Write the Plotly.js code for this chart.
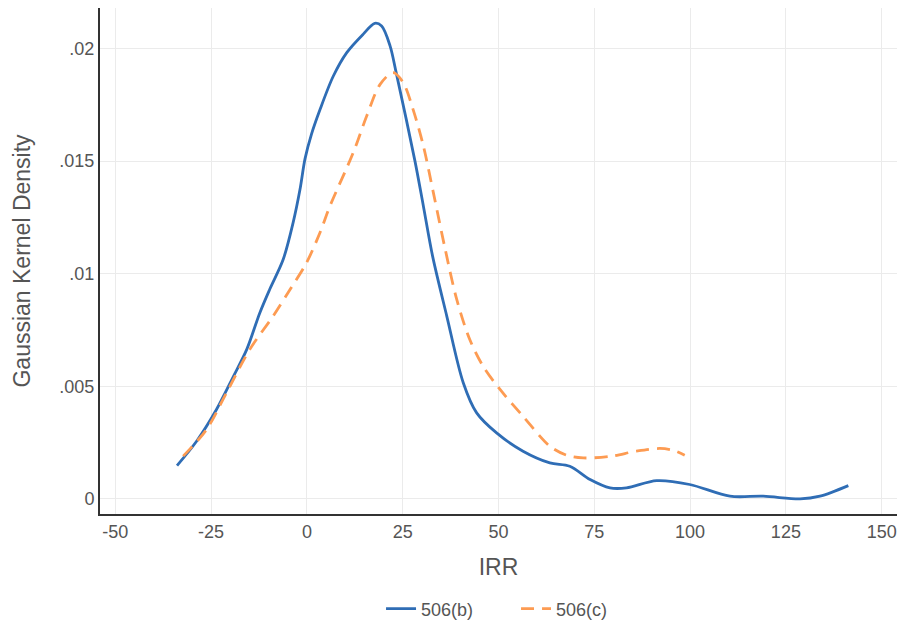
<!DOCTYPE html>
<html>
<head>
<meta charset="utf-8">
<script src="https://cdn.plot.ly/plotly-3.0.1.min.js"></script>
<style>html,body{margin:0;padding:0;background:#fff;}#chart{width:900px;height:627px;}</style>
</head>
<body>
<div id="chart"></div>
<script>
// 506(b) density curve
const bX = [-33.9, -28.8, -23.6, -19.3, -15.7, -12.3, -9.7, -6.2, -3.6, -1.8, -0.5, 1.2, 3.4, 6.9, 10.4, 14.7, 17.7, 19.5, 21.7, 23.3, 28.2, 30.4, 32.8, 36.5, 40.8, 44.3, 49.5, 56.4, 63.4, 68.6, 73.9, 79.1, 83.4, 91.3, 99.9, 110.4, 119.1, 128.7, 133.9, 141.3];
const bY = [0.00148, 0.00256, 0.00397, 0.0054, 0.00664, 0.00826, 0.00931, 0.01063, 0.01227, 0.01375, 0.0151, 0.0162, 0.01728, 0.01878, 0.01982, 0.02064, 0.02112, 0.021, 0.02012, 0.01893, 0.015, 0.013, 0.01078, 0.00812, 0.00516, 0.00382, 0.00293, 0.00212, 0.0016, 0.00145, 0.00086, 0.00049, 0.00049, 0.00081, 0.00064, 0.00012, 0.00012, 0.0, 0.00012, 0.00059];
// 506(c) density curve
const cX = [-32.3, -26.2, -21, -14.9, -8.8, -4.4, -0.1, 3.4, 6.0, 12.1, 15.6, 19.1, 22.5, 25.1, 27.7, 30.4, 33.0, 36.1, 39.1, 42.5, 46, 50.4, 56.4, 63.4, 67.8, 72.1, 79.1, 86, 92.1, 95.6, 98.6];
const cY = [0.0019, 0.00308, 0.00471, 0.00664, 0.00812, 0.0093, 0.01049, 0.01182, 0.013, 0.01538, 0.017, 0.01841, 0.01893, 0.01849, 0.0173, 0.01567, 0.0136, 0.01108, 0.00886, 0.00708, 0.00589, 0.00486, 0.00367, 0.00234, 0.00194, 0.00182, 0.00189, 0.00212, 0.00224, 0.00216, 0.00194];
const seriesNames = ["506(b)", "506(c)"];
const xTicks = [-50, -25, 0, 25, 50, 75, 100, 125, 150];
const yTickVals = [0, 0.005, 0.01, 0.015, 0.02];
const yTickText = ["0", ".005", ".01", ".015", ".02"];

const font = "Liberation Sans, Arial, sans-serif";
const txt = "#555";
const traces = [
  {x: bX, y: bY, name: seriesNames[0], mode: "lines", type: "scatter",
   line: {color: "#2f6db5", width: 2.8, shape: "spline", smoothing: 0.9}},
  {x: cX, y: cY, name: seriesNames[1], mode: "lines", type: "scatter",
   line: {color: "#fd9b52", width: 2.8, shape: "spline", smoothing: 0.9, dash: "13px,8px"}}
];
const layout = {
  width: 900, height: 627,
  margin: {l: 100, r: 3, t: 8, b: 113, autoexpand: false},
  paper_bgcolor: "#fff", plot_bgcolor: "#fff",
  font: {family: font, color: txt, size: 18},
  showlegend: true,
  legend: {orientation: "h", x: 0.522, xanchor: "center", y: -0.1877, yanchor: "middle",
           font: {family: font, size: 18, color: txt}, entrywidth: 90},
  xaxis: {
    range: [-54, 154], tickvals: xTicks, ticktext: xTicks.map(String),
    showgrid: true, gridcolor: "#ebebeb", gridwidth: 1, zeroline: false,
    showline: true, linecolor: "#333", linewidth: 2, ticks: "",
    tickfont: {size: 18, color: txt},
    title: {text: "IRR", font: {size: 23, color: txt}, standoff: 18}
  },
  yaxis: {
    range: [-0.00067, 0.0218], tickvals: yTickVals, ticktext: yTickText,
    showgrid: true, gridcolor: "#ebebeb", gridwidth: 1, zeroline: false,
    showline: true, linecolor: "#333", linewidth: 2, ticks: "",
    tickfont: {size: 18, color: txt},
    title: {text: "Gaussian Kernel Density", font: {size: 23, color: txt}, standoff: 22}
  }
};
Plotly.newPlot("chart", traces, layout, {displayModeBar: false, staticPlot: true});
</script>
</body>
</html>
